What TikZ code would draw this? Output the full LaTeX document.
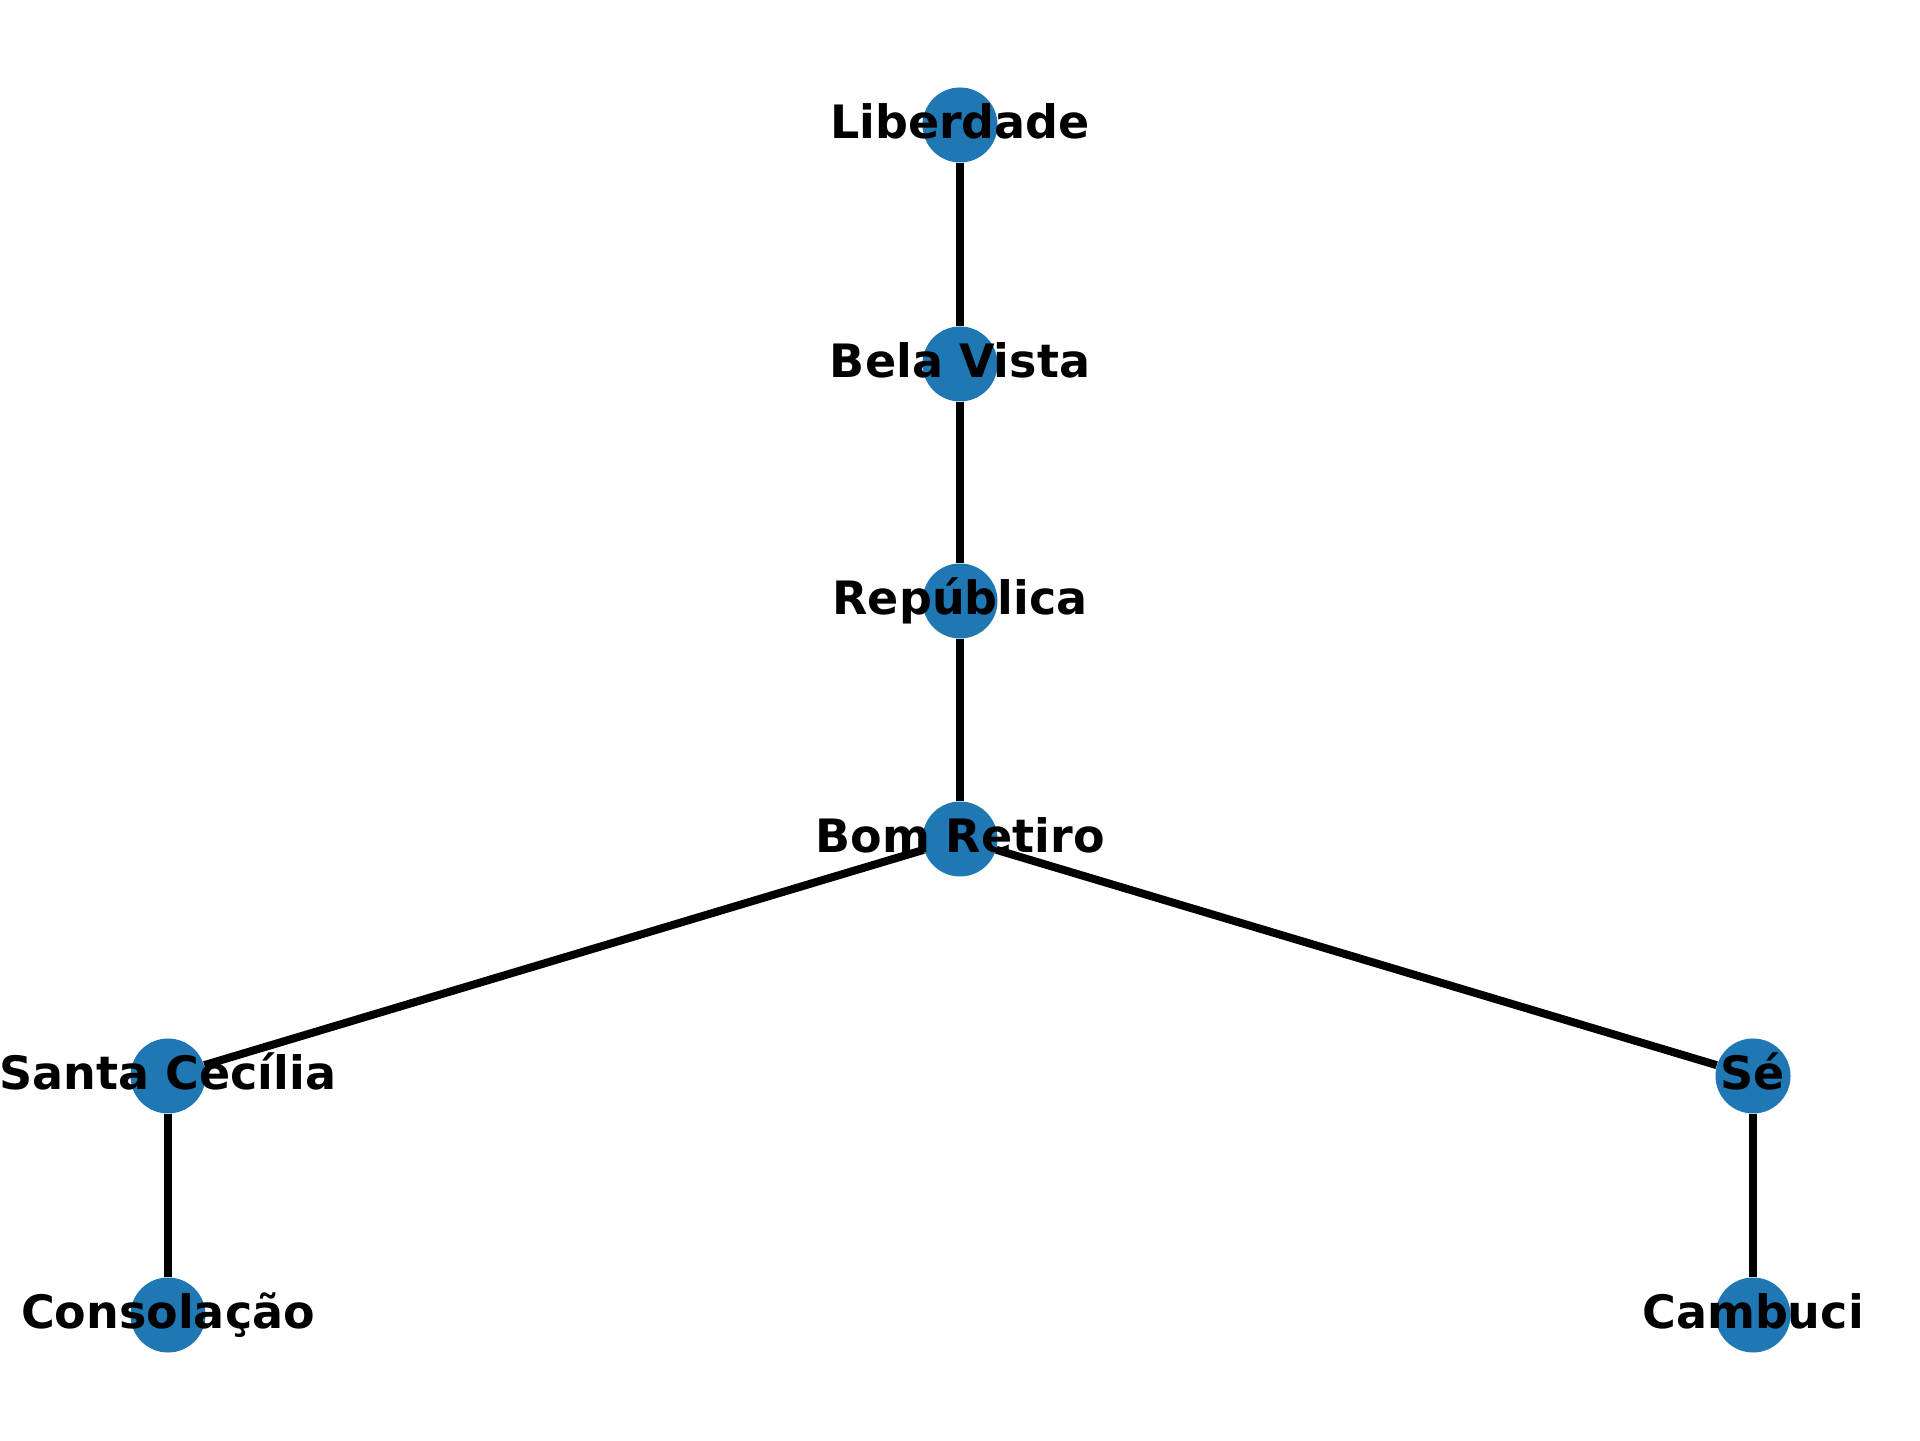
\documentclass[tikz,border=0pt]{standalone}
\usepackage{fontspec}
\setmainfont{DejaVu Sans}
\definecolor{nodeblue}{HTML}{1F77B4}
\begin{document}
\begin{tikzpicture}[x=0.5pt,y=0.5pt,
  dot/.style={circle,fill=nodeblue,minimum size=37.5pt,inner sep=0pt},
  edge/.style={line width=4pt,black},
  lbl/.style={anchor=base,inner sep=0pt,font=\fontsize{23pt}{27pt}\selectfont\bfseries}]
\useasboundingbox (0,0) rectangle (1920,1440);
\node[dot] (lib) at (960,1315) {};
\node[dot] (bel) at (960,1076) {};
\node[dot] (rep) at (960,839) {};
\node[dot] (bom) at (960,601) {};
\node[dot] (san) at (168,364) {};
\node[dot] (se) at (1753,364) {};
\node[dot] (con) at (168,125) {};
\node[dot] (cam) at (1753,125) {};
\draw[edge] (lib) -- (bel);
\draw[edge] (bel) -- (rep);
\draw[edge] (rep) -- (bom);
\draw[edge] (bom) -- (san);
\draw[edge] (bom) -- (se);
\draw[edge] (san) -- (con);
\draw[edge] (se) -- (cam);
\node[lbl] (tlib) at ([yshift=-6.75pt]lib.center) {Liberdade};
\node[lbl] (tbel) at ([yshift=-6.75pt]bel.center) {Bela Vista};
\node[lbl] (trep) at ([yshift=-6.75pt]rep.center) {República};
\node[lbl] (tbom) at ([yshift=-6.75pt]bom.center) {Bom Retiro};
\node[lbl] (tsan) at ([yshift=-6.75pt]san.center) {Santa Cecília};
\node[lbl] (tse) at ([yshift=-6.75pt]se.center) {Sé};
\node[lbl] (tcon) at ([yshift=-6.75pt]con.center) {Consolação};
\node[lbl] (tcam) at ([yshift=-6.75pt]cam.center) {Cambuci};
\end{tikzpicture}
\end{document}
